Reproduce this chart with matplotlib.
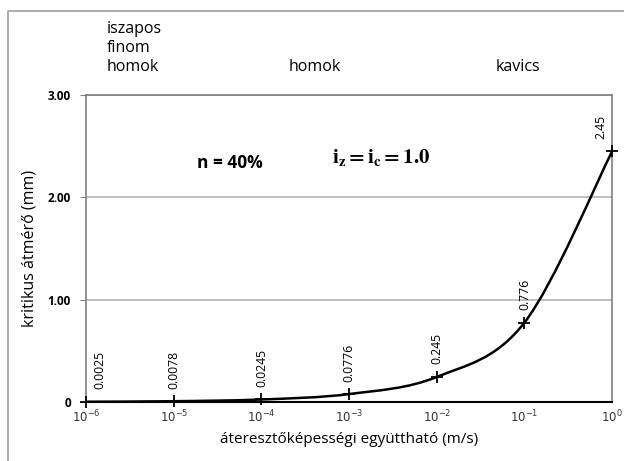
import numpy as np
import matplotlib
matplotlib.use("Agg")
import matplotlib.pyplot as plt
from matplotlib.path import Path
from matplotlib.patches import PathPatch
from matplotlib.lines import Line2D

# permeability coefficient (m/s) and critical diameter (mm)
permeability = [1e-6, 1e-5, 1e-4, 1e-3, 1e-2, 1e-1, 1e0]
diameter = [0.0025, 0.0078, 0.0245, 0.0776, 0.245, 0.776, 2.45]
value_labels = ["0.0025", "0.0078", "0.0245", "0.0776", "0.245", "0.776", "2.45"]
y_ticks = [0, 1, 2, 3]
y_tick_labels = ["0", "1.00", "2.00", "3.00"]
soil_classes = ["iszapos\nfinom\nhomok", "homok", "kavics"]

plt.rcParams["font.family"] = ["Open Sans", "DejaVu Sans"]

fig = plt.figure(figsize=(6.24, 4.61), dpi=100)
ax = fig.add_axes([0.138, 0.128, 0.843, 0.666])

# outer frame of the figure (top and left edges)
fx, fy = 7.5 / 624, 1 - 11.5 / 461
fig.lines.append(Line2D([fx, fx, 1.01], [0, fy, fy], transform=fig.transFigure,
                        color="#a6a6a6", lw=1.3))

xs = np.log10(permeability)
ys = np.array(diameter)

# smoothed curve (Catmull-Rom style Bezier through the points)
verts = [(xs[0], ys[0])]
codes = [Path.MOVETO]
n = len(xs)
for i in range(n - 1):
    p0 = np.array([xs[max(i - 1, 0)], ys[max(i - 1, 0)]])
    p1 = np.array([xs[i], ys[i]])
    p2 = np.array([xs[i + 1], ys[i + 1]])
    p3 = np.array([xs[min(i + 2, n - 1)], ys[min(i + 2, n - 1)]])
    c1 = p1 + (p2 - p0) / 6
    c2 = p2 - (p3 - p1) / 6
    verts += [tuple(c1), tuple(c2), tuple(p2)]
    codes += [Path.CURVE4] * 3
ax.add_patch(PathPatch(Path(verts, codes), fill=False, lw=1.8,
                       edgecolor="black", zorder=4, clip_on=False))
ax.plot(xs, ys, "+", color="black", ms=9, mew=1.3, zorder=5, clip_on=False)

offsets = [10, 0, 0, 0, 0, 0, -8]
for x, y, lab, dx in zip(xs, ys, value_labels, offsets):
    ax.annotate(lab, (x, y), xytext=(dx, 9), textcoords="offset points",
                rotation=90, ha="center", va="bottom", fontsize=8.8)

ax.set_xlim(-6, 0)
ax.set_ylim(0, 3)
ax.set_xticks(xs)
ax.set_xticklabels([f"$10^{{{int(v)}}}$" for v in xs], fontsize=8.5,
                   family="DejaVu Sans", color="#333333")
ax.set_yticks(y_ticks)
ax.set_yticklabels(y_tick_labels, fontsize=8.5, fontweight="bold")
ax.tick_params(axis="x", length=0, pad=5)
ax.tick_params(axis="y", length=4, color="#808080", pad=7)
ax.grid(axis="y", color="#b3b3b3", lw=1.2)
for side in ["top", "right", "left"]:
    ax.spines[side].set_color("#808080")
    ax.spines[side].set_linewidth(1.2)
ax.spines["bottom"].set_color("black")
ax.spines["bottom"].set_linewidth(1.5)

ax.set_xlabel("áteresztőképességi együttható (m/s)", fontsize=11, labelpad=5)
ax.set_ylabel("kritikus átmérő (mm)", fontsize=11.5, labelpad=7)

fig.text(107 / 624, 1 - 21 / 461, soil_classes[0], fontsize=11.5,
         va="top", ha="left", linespacing=1.24)
fig.text(315 / 624, 1 - 67 / 461, soil_classes[1], fontsize=11.5,
         va="center", ha="center")
fig.text(518 / 624, 1 - 67 / 461, soil_classes[2], fontsize=11.5,
         va="center", ha="center")

ax.text(0.21, 0.78, "n = 40%", transform=ax.transAxes, fontsize=12.5,
        fontweight="bold", va="center")
ax.text(0.467, 0.795, r"$\mathbf{i_z = i_c = 1.0}$", transform=ax.transAxes,
        fontsize=15, va="center", math_fontfamily="stix")

fig.savefig("out.png", dpi=100)
